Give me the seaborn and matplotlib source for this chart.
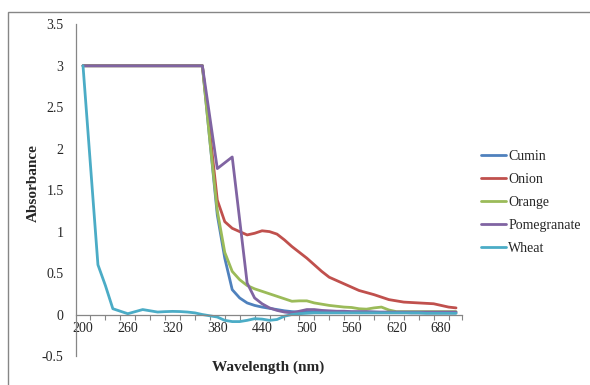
import numpy as np
import pandas as pd
import matplotlib.pyplot as plt
from matplotlib.patches import Rectangle
import seaborn as sns

## Spectra (10 nm steps, 200-700 nm)
wavelength = list(range(200, 710, 10))

flat = [3.0] * 17  # 200..360 nm saturated

#              370   380   390   400   410   420   430   440   450    460   470    480
cumin = flat + [2.1, 1.2, 0.68, 0.3, 0.2, 0.14, 0.11, 0.09, 0.075, 0.06, 0.045, 0.035,
                # 490..600
                0.03, 0.03, 0.03, 0.03, 0.03, 0.03, 0.03, 0.03, 0.03, 0.03, 0.03, 0.025,
                # 610..700
                0.025, 0.025, 0.025, 0.02, 0.02, 0.02, 0.02, 0.02, 0.02, 0.02]
onion = flat + [2.2, 1.38, 1.12, 1.04, 1.0, 0.96, 0.98, 1.01, 1.0, 0.97, 0.9, 0.82,
                0.75, 0.68, 0.6, 0.52, 0.45, 0.41, 0.37, 0.33, 0.29, 0.265, 0.24, 0.21,
                0.18, 0.165, 0.15, 0.145, 0.14, 0.135, 0.13, 0.11, 0.09, 0.08]
orange = flat + [2.1, 1.25, 0.75, 0.52, 0.42, 0.35, 0.31, 0.28, 0.25, 0.22, 0.19, 0.16,
                 0.165, 0.165, 0.14, 0.125, 0.11, 0.1, 0.09, 0.085, 0.07, 0.065, 0.08, 0.09,
                 0.055, 0.035, 0.035, 0.035, 0.035, 0.035, 0.035, 0.035, 0.035, 0.035]
pomegranate = flat + [2.38, 1.76, 1.83, 1.9, 1.14, 0.38, 0.2, 0.13, 0.08, 0.05, 0.03, 0.02,
                      0.04, 0.06, 0.06, 0.05, 0.045, 0.04, 0.04, 0.035, 0.035, 0.035, 0.03, 0.03,
                      0.03, 0.03, 0.03, 0.03, 0.03, 0.03, 0.03, 0.03, 0.03, 0.03]
#        200  210  220  230   240   250   260   270    280   290    300   310    320
wheat = [3.0, 1.8, 0.6, 0.35, 0.07, 0.04, 0.01, 0.035, 0.06, 0.045, 0.03, 0.035, 0.038,
         # 330..440
         0.036, 0.03, 0.02, 0.0, -0.015, -0.03, -0.07, -0.085, -0.085, -0.07, -0.05, -0.055,
         # 450..560
         -0.07, -0.06, -0.02, 0.0, 0.01, 0.015, 0.02, 0.02, 0.02, 0.02, 0.02, 0.02,
         # 570..700
         0.02, 0.02, 0.02, 0.02, 0.02, 0.02, 0.02, 0.02, 0.02, 0.015, 0.015, 0.015, 0.015, 0.015]

samples = ['Cumin', 'Onion', 'Orange', 'Pomegranate', 'Wheat']
colors = ['#4F81BD', '#C0504D', '#9BBB59', '#8064A2', '#4BACC6']

df = pd.DataFrame({
    'Wavelength': wavelength * 5,
    'Absorbance': cumin + onion + orange + pomegranate + wheat,
    'Sample': [s for s in samples for _ in wavelength],
})

sns.set_style("white")
plt.rcParams['font.family'] = ['Liberation Serif', 'DejaVu Serif']

W, H = 590, 385
fig = plt.figure(figsize=(W / 100, H / 100), dpi=100)
# axes box in pixels: left 76, right 462, top 24.3, bottom 356
ax = fig.add_axes([76 / W, 1 - 356 / H, 386 / W, 331.7 / H])

sns.lineplot(data=df, x='Wavelength', y='Absorbance', hue='Sample',
             palette=colors, linewidth=2.0, ax=ax, sort=False)

ax.set_xlim(190.6, 708)
ax.set_ylim(-0.5, 3.5)

ax.set_yticks(np.arange(-0.5, 3.51, 0.5))
ax.set_yticklabels(['-0.5', '0', '0.5', '1', '1.5', '2', '2.5', '3', '3.5'])
ax.set_xticks(range(200, 700, 60))
ax.set_xticks(list(range(210, 700, 20)) + [708], minor=True)

ax.tick_params(axis='y', which='major', direction='out', length=3, width=0.8,
               color='#868686', labelsize=10, pad=6)
ax.tick_params(axis='x', which='major', length=0, labelsize=10, pad=5.5)
ax.tick_params(axis='x', which='minor', direction='out', length=3.5, width=0.8,
               color='#868686', bottom=True)

for side in ['top', 'right']:
    ax.spines[side].set_visible(False)
ax.spines['bottom'].set_position(('data', 0))
for side in ['left', 'bottom']:
    ax.spines[side].set_color('#868686')
    ax.spines[side].set_linewidth(0.9)

ax.set_xlabel('Wavelength (nm)', fontsize=11, fontweight='bold')
ax.set_ylabel('Absorbance', fontsize=11, fontweight='bold')
ax.xaxis.set_label_coords((268 - 76) / 386, (356 - 367.5) / 331.7)
ax.xaxis.label.set_va('center')
ax.yaxis.set_label_coords((33 - 76) / 386, (356 - 183) / 331.7)
ax.yaxis.label.set_va('center')
ax.grid(False)

ax.legend(loc='upper left', bbox_to_anchor=(481 / W, 1 - 150 / H),
          bbox_transform=fig.transFigure, frameon=False, fontsize=10,
          handlelength=1.8, handletextpad=0.15, labelspacing=0.72,
          borderpad=0, borderaxespad=0, title=None)

# chart area border (only top and left edges fall inside the image)
fig.patches.append(Rectangle((8 / W, -0.1), 1.0, 1.1 - 11.7 / H, transform=fig.transFigure,
                             fill=False, edgecolor='#868686', linewidth=1.0))

plt.savefig('out.png', dpi=100)
